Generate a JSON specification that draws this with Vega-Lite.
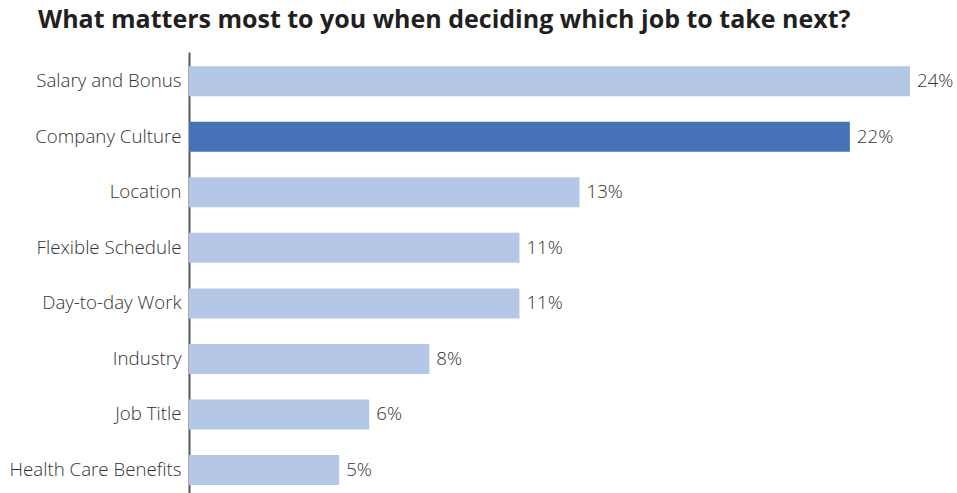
{
  "$schema": "https://vega.github.io/schema/vega-lite/v6.json",
  "padding": {"top": 8, "left": 0, "right": 0, "bottom": 0},
  "width": 760,
  "height": 441,
  "background": "white",
  "title": {
    "text": "What matters most to you when deciding which job to take next?",
    "anchor": "start",
    "frame": "bounds",
    "dx": 38,
    "font": "Open Sans",
    "fontSize": 25,
    "fontWeight": "bold",
    "color": "#231f20",
    "offset": 19
  },
  "data": {
    "values": [
      {"factor": "Salary and Bonus", "share": 0.24, "highlight": "no"},
      {"factor": "Company Culture", "share": 0.22, "highlight": "yes"},
      {"factor": "Location", "share": 0.13, "highlight": "no"},
      {"factor": "Flexible Schedule", "share": 0.11, "highlight": "no"},
      {"factor": "Day-to-day Work", "share": 0.11, "highlight": "no"},
      {"factor": "Industry", "share": 0.08, "highlight": "no"},
      {"factor": "Job Title", "share": 0.06, "highlight": "no"},
      {"factor": "Health Care Benefits", "share": 0.05, "highlight": "no"}
    ]
  },
  "encoding": {
    "y": {
      "field": "factor",
      "type": "nominal",
      "sort": null,
      "scale": {"paddingInner": 0.46, "paddingOuter": 0.2, "align": 0.64},
      "axis": {
        "title": null,
        "ticks": false,
        "domain": true,
        "domainColor": "#595959",
        "domainWidth": 2,
        "labelFont": "Open Sans",
        "labelFontSize": 18.7,
        "labelFontWeight": 300,
        "labelColor": "#333333",
        "labelPadding": 8,
        "labelLimit": 300,
        "minExtent": 189,
        "maxExtent": 189,
        "grid": false
      }
    },
    "x": {
      "field": "share",
      "type": "quantitative",
      "scale": {"domain": [0, 0.253], "nice": false},
      "axis": null
    }
  },
  "layer": [
    {
      "mark": {"type": "bar"},
      "encoding": {
        "color": {
          "field": "highlight",
          "type": "nominal",
          "scale": {"domain": ["no", "yes"], "range": ["#b4c7e7", "#4872b8"]},
          "legend": null
        }
      }
    },
    {
      "mark": {"type": "text", "align": "left", "dx": 7, "font": "Open Sans", "fontSize": 18.7, "fontWeight": 300, "color": "#333333"},
      "encoding": {
        "text": {"field": "share", "type": "quantitative", "format": ".0%"}
      }
    }
  ],
  "config": {"view": {"stroke": null}}
}
